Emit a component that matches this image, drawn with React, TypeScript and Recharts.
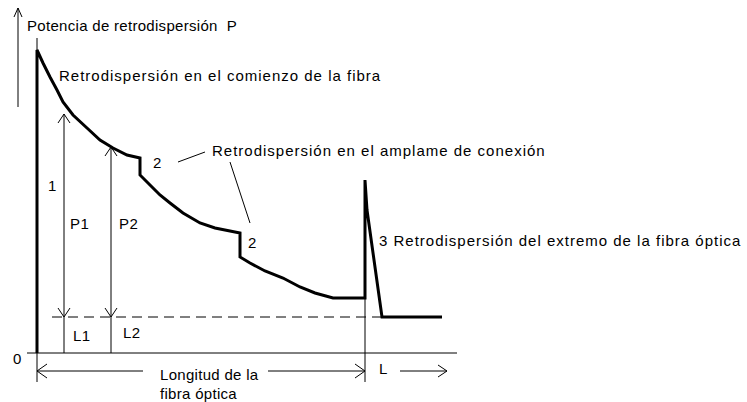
import { LineChart, Line, XAxis, YAxis } from "recharts";

// units: distance along fibre (x) and backscatter power (y), origin at fibre start
const trace = [
  { x: 0, y: 0 }, { x: 0, y: 303 }, { x: 6, y: 290 }, { x: 13, y: 276 }, { x: 20, y: 263 },
  { x: 26, y: 251 }, { x: 36, y: 238 }, { x: 50, y: 225 }, { x: 63, y: 213 }, { x: 76, y: 205 },
  { x: 90, y: 198 }, { x: 103, y: 195 }, { x: 103, y: 178 }, { x: 113, y: 168 },
  { x: 123, y: 158 }, { x: 133, y: 150 }, { x: 146, y: 140 }, { x: 163, y: 130 }, { x: 178, y: 125 },
  { x: 203, y: 120 }, { x: 203, y: 96 }, { x: 213, y: 90 }, { x: 228, y: 82 }, { x: 246, y: 75 },
  { x: 263, y: 66 }, { x: 278, y: 60 }, { x: 296, y: 55 }, { x: 328, y: 55 }, { x: 328, y: 173 },
  { x: 330, y: 143 }, { x: 345, y: 36 }, { x: 405, y: 36 },
];

const noiseLevel = [{ x: 15, y: 36 }, { x: 344, y: 36 }];
const baseline = [{ x: -10, y: 0 }, { x: 420, y: 0 }];
const powerAxis = [{ x: 0, y: 315 }, { x: 0, y: -29 }];
const powerArrow = [{ x: -19, y: 246 }, { x: -19, y: 345 }];
const powerArrowHead = [{ x: -23, y: 336 }, { x: -19, y: 345 }, { x: -15, y: 336 }];
const fibreEnd = [{ x: 328, y: 55 }, { x: 328, y: -29 }];

const p1Line = [{ x: 27, y: 0 }, { x: 27, y: 239 }];
const p1Up = [{ x: 21, y: 230 }, { x: 27, y: 239 }, { x: 33, y: 230 }];
const p1Down = [{ x: 21, y: 45 }, { x: 27, y: 36 }, { x: 33, y: 45 }];
const p2Line = [{ x: 74, y: 0 }, { x: 74, y: 206 }];
const p2Up = [{ x: 68, y: 197 }, { x: 74, y: 206 }, { x: 80, y: 197 }];
const p2Down = [{ x: 68, y: 45 }, { x: 74, y: 36 }, { x: 80, y: 45 }];

const leader1 = [{ x: 141, y: 191 }, { x: 168, y: 201 }];
const leader2 = [{ x: 193, y: 191 }, { x: 213, y: 130 }];

const dimLeft = [{ x: 0, y: -18 }, { x: 106, y: -18 }];
const dimRight = [{ x: 231, y: -18 }, { x: 328, y: -18 }];
const dimHeadL = [{ x: 10, y: -11 }, { x: 0, y: -18 }, { x: 10, y: -25 }];
const dimHeadR = [{ x: 318, y: -11 }, { x: 328, y: -18 }, { x: 318, y: -25 }];
const lArrow = [{ x: 363, y: -18 }, { x: 410, y: -18 }];
const lHead = [{ x: 401, y: -12 }, { x: 410, y: -18 }, { x: 401, y: -24 }];

const axisLabels = [
  { x: -10, y: 328, text: "Potencia de retrodispersión\u00a0\u00a0P" },
  { x: -24, y: -5, text: "0" },
  { x: 123, y: -21, text: "Longitud de la" },
  { x: 123, y: -40, text: "fibra óptica" },
  { x: 342, y: -15, text: "L" },
];

const traceLabels = [
  { x: 22, y: 278, text: "Retrodispersión en el comienzo de la fibra" },
  { x: 175, y: 203, text: "Retrodispersión en el amplame de conexión" },
  { x: 342, y: 113, text: "3 Retrodispersión del extremo de la fibra óptica" },
];

const markLabels = [
  { x: 11, y: 168, text: "1" },
  { x: 33, y: 130, text: "P1" },
  { x: 82, y: 130, text: "P2" },
  { x: 116, y: 191, text: "2" },
  { x: 211, y: 111, text: "2" },
  { x: 36, y: 18, text: "L1" },
  { x: 86, y: 21, text: "L2" },
];

const thin = [
  baseline, powerAxis, powerArrow, powerArrowHead, fibreEnd,
  p1Line, p1Up, p1Down, p2Line, p2Up, p2Down,
  leader1, leader2, dimLeft, dimRight, dimHeadL, dimHeadR, lArrow, lHead,
];

const font = "'Liberation Sans', Arial, sans-serif";

const textDot = (spacing: number) => (p: any) => (
  <text
    key={p.index}
    x={p.cx}
    y={p.cy}
    dominantBaseline="central"
    fontFamily={font}
    fontSize={15}
    letterSpacing={spacing}
    fill="#000"
  >
    {p.payload.text}
  </text>
);

export default function App() {
  return (
    <div style={{ position: "absolute", left: 0, top: 0, background: "#fff" }}>
      <LineChart width={747} height={402} margin={{ top: 0, right: 0, bottom: 0, left: 0 }}>
        <XAxis type="number" dataKey="x" domain={[-37, 710]} allowDataOverflow hide />
        <YAxis type="number" dataKey="y" domain={[-49, 353]} allowDataOverflow hide />
        {thin.map((d, i) => (
          <Line
            key={"t" + i}
            data={d}
            dataKey="y"
            type="linear"
            stroke="#000"
            strokeWidth={1}
            dot={false}
            activeDot={false}
            isAnimationActive={false}
          />
        ))}
        <Line
          data={noiseLevel}
          dataKey="y"
          type="linear"
          stroke="#000"
          strokeWidth={1}
          strokeDasharray="10 6"
          dot={false}
          activeDot={false}
          isAnimationActive={false}
        />
        <Line
          data={trace}
          dataKey="y"
          type="linear"
          stroke="#000"
          strokeWidth={3}
          dot={false}
          activeDot={false}
          isAnimationActive={false}
        />
        <Line data={axisLabels} dataKey="y" stroke="none" dot={textDot(0.3)} activeDot={false} isAnimationActive={false} />
        <Line data={traceLabels} dataKey="y" stroke="none" dot={textDot(1)} activeDot={false} isAnimationActive={false} />
        <Line data={markLabels} dataKey="y" stroke="none" dot={textDot(0.5)} activeDot={false} isAnimationActive={false} />
      </LineChart>
    </div>
  );
}
